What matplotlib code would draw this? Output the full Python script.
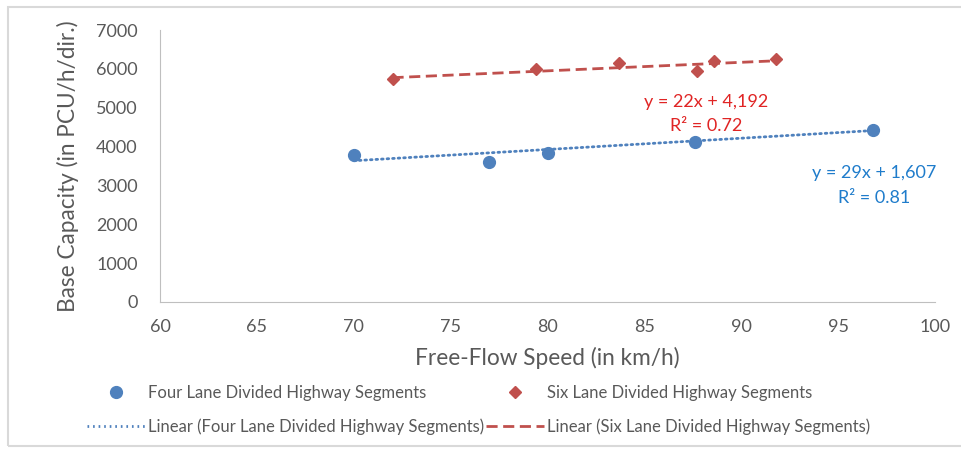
import matplotlib
matplotlib.use("Agg")
import matplotlib.pyplot as plt
from matplotlib.lines import Line2D
from matplotlib.patches import Rectangle
import numpy as np

plt.rcParams['font.family'] = ['Lato', 'DejaVu Sans']

# Data
four_speed = [70, 77, 80, 87.6, 96.8]
four_cap = [3790, 3610, 3840, 4130, 4440]
six_speed = [72, 79.4, 83.7, 87.7, 88.6, 91.8]
six_cap = [5740, 6000, 6150, 5950, 6200, 6250]
four_fit = (29, 1607)
six_fit = (22, 4192)
four_eq = ["y = 29x + 1,607", "R² = 0.81"]
six_eq = ["y = 22x + 4,192", "R² = 0.72"]
x_ticks = [60, 65, 70, 75, 80, 85, 90, 95, 100]
y_ticks = [0, 1000, 2000, 3000, 4000, 5000, 6000, 7000]

blue = '#4F81BD'
red = '#C0504D'
gray = '#595959'

fig = plt.figure(figsize=(9.61, 4.5), dpi=100)
fig.patches.append(Rectangle((0.008, 0.01), 1.0, 0.975, transform=fig.transFigure,
                             fill=False, edgecolor='#d9d9d9', linewidth=1.5))
ax = fig.add_axes([0.1665, 0.329, 0.8065, 0.604])

ax.plot(four_speed, four_cap, 'o', color=blue, ms=8.5, zorder=3)
ax.plot(six_speed, six_cap, 'D', color=red, ms=6.5, zorder=3)

fx = np.array([min(four_speed), max(four_speed)])
ax.plot(fx, four_fit[0] * fx + four_fit[1], linestyle=(0, (0.6, 1.4)), color=blue, lw=2.0,
        dash_capstyle='round', zorder=2)
sx = np.array([min(six_speed), max(six_speed)])
ax.plot(sx, six_fit[0] * sx + six_fit[1], linestyle=(0, (4, 2)), color=red, lw=2.0, zorder=2)

eq_fs = 13
ax.text(88.2, 5150, six_eq[0], color='#E02424', fontsize=eq_fs, ha='center', va='center')
ax.text(88.2, 4530, six_eq[1], color='#E02424', fontsize=eq_fs, ha='center', va='center')
ax.text(96.85, 3310, four_eq[0], color='#1F7CCB', fontsize=eq_fs, ha='center', va='center')
ax.text(96.85, 2690, four_eq[1], color='#1F7CCB', fontsize=eq_fs, ha='center', va='center')

ax.set_xlim(60, 100)
ax.set_ylim(0, 7000)
ax.set_xticks(x_ticks)
ax.set_yticks(y_ticks)
ax.tick_params(length=0, labelsize=13, colors=gray)
ax.tick_params(axis='x', pad=12)
ax.tick_params(axis='y', pad=16)
for s in ['top', 'right']:
    ax.spines[s].set_visible(False)
for s in ['left', 'bottom']:
    ax.spines[s].set_color('#bfbfbf')
ax.set_xlabel('Free-Flow Speed (in km/h)', fontsize=16.3, color=gray, labelpad=9)
ax.set_ylabel('Base Capacity (in PCU/h/dir.)', fontsize=16.3, color=gray, labelpad=12)

handles = [
    Line2D([], [], marker='o', color=blue, ls='none', ms=8.5),
    Line2D([], [], color=blue, linestyle=(0, (0.6, 1.4)), lw=2.0),
    Line2D([], [], marker='D', color=red, ls='none', ms=6.5),
    Line2D([], [], color=red, linestyle=(0, (4, 2)), lw=2.0),
]
labels = ['Four Lane Divided Highway Segments',
          'Linear (Four Lane Divided Highway Segments)',
          'Six Lane Divided Highway Segments',
          'Linear (Six Lane Divided Highway Segments)']
fig.legend(handles, labels, loc='upper left', bbox_to_anchor=(0.082, 0.163), ncol=2,
           frameon=False, fontsize=12, handlelength=3.5, handletextpad=0.15,
           columnspacing=0.1, labelspacing=1.05, labelcolor=gray, borderpad=0)

fig.savefig('out.png', dpi=100)
